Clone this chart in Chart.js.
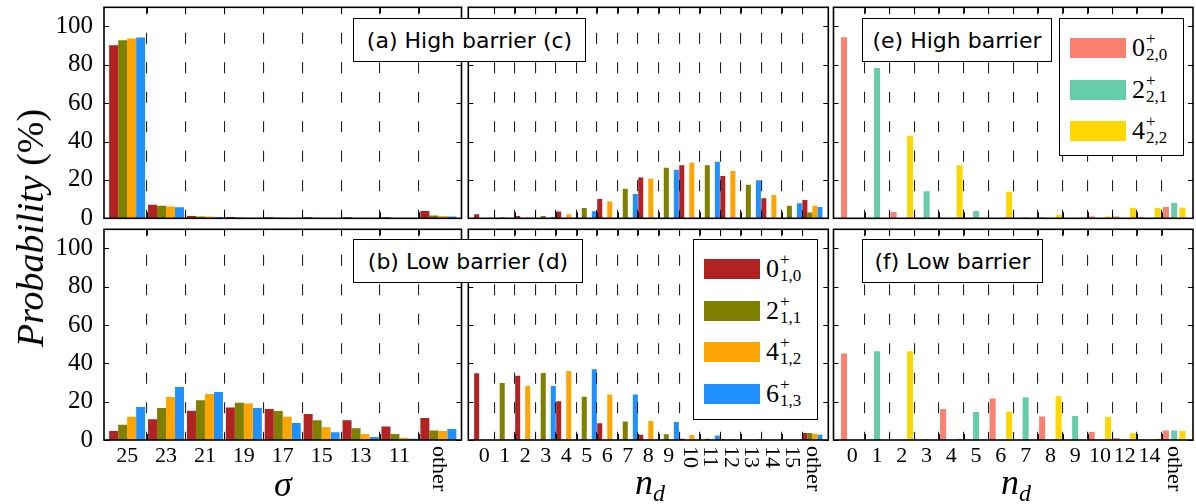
<!DOCTYPE html>
<html><head><meta charset="utf-8">
<script src="https://cdn.jsdelivr.net/npm/chart.js@4.4.1/dist/chart.umd.min.js"></script>
<style>
html,body{margin:0;padding:0;background:#fff;}
#wrap{position:relative;width:1196px;height:504px;overflow:hidden;background:#fff;}
#wrap canvas{position:absolute;left:0;top:0;}
.box{position:absolute;border:1.5px solid #000;background:#fff;font-family:"DejaVu Sans",sans-serif;font-size:22px;color:#000;box-sizing:border-box;display:flex;align-items:center;justify-content:center;white-space:nowrap;z-index:5;}
.leg{position:absolute;border:1.5px solid #000;background:#fff;box-sizing:border-box;z-index:5;}
.patch{position:absolute;width:56px;height:20px;}
.lab{position:absolute;height:40px;display:flex;align-items:center;font-family:"Liberation Serif","DejaVu Serif","Times New Roman",Tinos,serif;color:#000;white-space:nowrap;}
.lab .bs{font-size:26px;line-height:26px;}
.lab .ss{display:inline-flex;flex-direction:column;font-size:17px;line-height:16px;margin-left:1px;margin-top:-2px;}
.ttl{position:absolute;font-family:"Liberation Serif","DejaVu Serif","Times New Roman",Tinos,serif;color:#000;white-space:nowrap;transform:translate(-50%,-50%);z-index:5;}
</style>
</head><body>
<div id="wrap"></div>
<script>
// ---------- data ----------
const yTicks = [0, 20, 40, 60, 80, 100];
const sigmaCats = ['25','23','21','19','17','15','13','11','other'];
const ndCats = ['0','1','2','3','4','5','6','7','8','9','10','11','12','13','14','15','other'];
const nd2Cats = ['0','1','2','3','4','5','6','7','8','9','10','12','14','other'];

const colors1 = ['#B22222', '#808000', '#FFA500', '#1E90FF'];
const colors2 = ['#FA8072', '#66CDAA', '#FFD700'];
const stateJ1 = ['0', '2', '4', '6'];
const stateSub1 = ['1,0', '1,1', '1,2', '1,3'];
const stateJ2 = ['0', '2', '4'];
const stateSub2 = ['2,0', '2,1', '2,2'];

// (a) high barrier, sigma distribution
const highSigma0 = [90.2, 7.0, 1.2, 0.7, 0.6, 0.6, 0.5, 0.5, 3.8];
const highSigma2 = [92.8, 6.5, 1.0, 0.4, 0.3, 0.2, 0.2, 0.2, 1.4];
const highSigma4 = [93.7, 6.1, 0.9, 0.3, 0.2, 0.2, 0.2, 0.2, 1.2];
const highSigma6 = [94.2, 5.8, 0.7, 0.3, 0.2, 0.2, 0.2, 0.2, 1.0];
// (b) low barrier, sigma distribution
const lowSigma0 = [4.7, 10.8, 15.3, 17.0, 16.2, 13.6, 10.3, 7.0, 11.5];
const lowSigma2 = [8.0, 16.7, 20.7, 19.5, 15.1, 10.3, 6.1, 3.1, 4.9];
const lowSigma4 = [12.2, 22.4, 24.0, 19.0, 12.2, 6.6, 3.1, 1.2, 4.7];
const lowSigma6 = [17.2, 27.7, 25.0, 16.7, 8.9, 4.0, 1.6, 0.7, 5.7];
// (c) high barrier, n_d distribution
const highNd0 = [2.1, 0, 1.2, 0, 3.5, 0, 10.1, 0, 21.3, 0, 27.7, 0, 22.0, 0, 10.5, 0, 9.6];
const highNd2 = [0, 0.5, 0, 1.2, 0, 5.4, 0, 15.4, 0, 26.4, 0, 27.6, 0, 17.5, 0, 6.5, 3.0];
const highNd4 = [0, 0, 0.4, 0, 2.1, 0, 8.7, 0, 20.6, 0, 29.0, 0, 24.6, 0, 12.2, 0, 6.5];
const highNd6 = [0, 0, 0, 0.7, 0, 3.7, 0, 12.7, 0, 25.3, 0, 29.5, 0, 19.9, 0, 7.9, 5.9];
// (d) low barrier, n_d distribution
const lowNd0 = [34.8, 0, 33.6, 0, 20.2, 0, 8.7, 0, 2.8, 0, 0.7, 0, 0.3, 0, 0.1, 0, 3.7];
const lowNd2 = [0, 29.7, 0, 35.0, 0, 22.6, 0, 9.7, 0, 3.0, 0, 0.7, 0, 0.1, 0, 0.05, 3.7];
const lowNd4 = [0, 0, 28.2, 0, 36.0, 0, 23.7, 0, 9.9, 0, 2.6, 0, 0.5, 0, 0.1, 0, 3.3];
const lowNd6 = [0, 0, 0, 28.2, 0, 37.0, 0, 23.8, 0, 9.4, 0, 2.3, 0, 0.3, 0, 0.1, 2.8];
// (e) high barrier, second band
const highBand0 = [94.4, 0, 3.3, 0, 0.3, 0, 0.2, 0, 0.5, 0, 1.0, 1.0, 0.5, 5.9];
const highBand2 = [0, 78.4, 0, 14.1, 0, 3.8, 0, 0.5, 0, 0.1, 0, 0, 0, 8.0];
const highBand4 = [0, 0, 43.0, 0, 27.7, 0, 13.8, 0, 1.9, 0, 1.0, 5.4, 5.4, 5.5];
// (f) low barrier, second band
const lowBand0 = [45.2, 0, 0, 0, 16.2, 0, 21.7, 0, 12.3, 0, 4.2, 1.0, 0.3, 5.0];
const lowBand2 = [0, 46.3, 0, 0.5, 0, 14.6, 0, 22.3, 0, 12.5, 0, 0, 0, 5.0];
const lowBand4 = [0, 0, 46.3, 0, 0.7, 0, 14.8, 0, 22.8, 0, 12.0, 3.5, 0.7, 4.7];

const rotatedSigma = ['other'];
const rotatedNd = ['10','11','12','13','14','15','other'];
const rotatedNd2 = ['other'];

// ---------- layout ----------
const SERIF = '"Liberation Serif", "DejaVu Serif", "Times New Roman", Tinos, serif';
const W = 1196, H = 504;
const panels = [
  {cats: sigmaCats, data: [highSigma0, highSigma2, highSigma4, highSigma6], colors: colors1, xr: [-0.595, 8.595], area: {l: 104, r: 461.5, t: 7.3, b: 218.3}, showY: true, showX: false, rot: rotatedSigma, cp: 0.925, bp: 1},
  {cats: sigmaCats, data: [lowSigma0, lowSigma2, lowSigma4, lowSigma6], colors: colors1, xr: [-0.595, 8.595], area: {l: 104, r: 461.5, t: 229.3, b: 440}, showY: true, showX: true, rot: rotatedSigma, cp: 0.925, bp: 1},
  {cats: ndCats, data: [highNd0, highNd2, highNd4, highNd6], colors: colors1, xr: [-0.775, 16.775], area: {l: 468.3, r: 828.3, t: 7.3, b: 218.3}, showY: false, showX: false, rot: rotatedNd, cp: 0.98, bp: 1},
  {cats: ndCats, data: [lowNd0, lowNd2, lowNd4, lowNd6], colors: colors1, xr: [-0.775, 16.775], area: {l: 468.3, r: 828.3, t: 229.3, b: 440}, showY: false, showX: true, rot: rotatedNd, cp: 0.98, bp: 1},
  {cats: nd2Cats, data: [highBand0, highBand2, highBand4], colors: colors2, xr: [-0.76, 13.76], area: {l: 833.5, r: 1193, t: 7.3, b: 218.3}, showY: false, showX: false, rot: rotatedNd2, cp: 1, bp: 0.73},
  {cats: nd2Cats, data: [lowBand0, lowBand2, lowBand4], colors: colors2, xr: [-0.76, 13.76], area: {l: 833.5, r: 1193, t: 229.3, b: 440}, showY: false, showX: true, rot: rotatedNd2, cp: 1, bp: 0.73}
];

const wrap = document.getElementById('wrap');

function framePlugin(p) {
  return {
    id: 'frame',
    afterDraw(chart) {
      const {ctx, chartArea: a, scales} = chart;
      ctx.save();
      ctx.strokeStyle = '#000';
      ctx.lineWidth = 1;
      const line = (x1, y1, x2, y2) => { ctx.beginPath(); ctx.moveTo(x1, y1); ctx.lineTo(x2, y2); ctx.stroke(); };
      yTicks.forEach(v => {
        const y = Math.round(scales.y.getPixelForValue(v)) + 0.5;
        line(a.left, y, a.left + 5, y);
        line(a.right, y, a.right - 5, y);
      });
      for (let i = 0; i < p.cats.length - 1; i++) {
        const x = Math.round(scales.x.getPixelForValue(i + 0.5)) + 0.5;
        line(x, a.top, x, a.top + 6);
        line(x, a.bottom, x, a.bottom - 6);
      }
      ctx.lineWidth = 1.6;
      ctx.strokeRect(a.left, a.top, a.right - a.left, a.bottom - a.top);
      if (p.showX) {
        ctx.font = '22px ' + SERIF;
        ctx.fillStyle = '#000';
        ctx.textAlign = 'left';
        ctx.textBaseline = 'middle';
        p.cats.forEach((c, i) => {
          if (!p.rot.includes(c)) return;
          const x = scales.x.getPixelForValue(i);
          ctx.save();
          ctx.translate(x, a.bottom + 6);
          ctx.rotate(Math.PI / 2);
          ctx.fillText(c, 0, 0);
          ctx.restore();
        });
      }
      ctx.restore();
    }
  };
}

const zeroPad = s => { s.paddingLeft = 0; s.paddingRight = 0; s.paddingTop = 0; s.paddingBottom = 0; };

panels.forEach(p => {
  const cv = document.createElement('canvas');
  cv.width = W; cv.height = H;
  wrap.appendChild(cv);
  const ar = p.area;
  new Chart(cv, {
    type: 'bar',
    data: {
      datasets: p.data.map((d, k) => ({
        label: stateJ1[k],
        data: d.map((v, i) => ({x: i, y: v})),
        backgroundColor: p.colors[k],
        borderWidth: 0,
        categoryPercentage: p.cp,
        barPercentage: p.bp
      }))
    },
    options: {
      responsive: false,
      animation: false,
      devicePixelRatio: 1,
      layout: {padding: {left: p.showY ? 0 : ar.l, right: W - ar.r, top: ar.t, bottom: p.showX ? 0 : H - ar.b}},
      plugins: {legend: {display: false}, tooltip: {enabled: false}},
      scales: {
        x: {
          type: 'linear', position: 'bottom', min: p.xr[0], max: p.xr[1], offset: false,
          afterBuildTicks: s => { s.ticks = p.cats.map((c, i) => ({value: i})); },
          afterFit: s => { s.height = p.showX ? H - ar.b : 0; zeroPad(s); },
          grid: {display: false, drawTicks: false, offset: false},
          border: {display: false},
          ticks: {
            display: p.showX, autoSkip: false, maxRotation: 0, minRotation: 0, padding: 3,
            font: {family: SERIF, size: 22}, color: '#000',
            callback: (v) => { const c = p.cats[Math.round(v)]; return p.rot.includes(c) ? '' : c; }
          }
        },
        xg: {
          type: 'linear', position: 'bottom', min: p.xr[0], max: p.xr[1], offset: false,
          afterBuildTicks: s => { s.ticks = p.cats.slice(1).map((c, i) => ({value: i + 0.5})); },
          afterFit: s => { s.height = 0; zeroPad(s); },
          grid: {display: true, drawTicks: false, offset: false, color: '#222', lineWidth: 1.1, z: 1, borderDash: [11, 18.5], borderDashOffset: 4},
          border: {display: false, dash: [11, 18.5], dashOffset: 4},
          ticks: {display: false}
        },
        y: {
          min: 0, max: 110,
          afterBuildTicks: s => { s.ticks = yTicks.map(v => ({value: v})); },
          afterFit: s => { s.width = p.showY ? ar.l : 0; zeroPad(s); },
          grid: {display: false, drawTicks: false},
          border: {display: false},
          ticks: {display: p.showY, padding: 11, font: {family: SERIF, size: 25}, color: '#000'}
        }
      }
    },
    plugins: [framePlugin(p)]
  });
});

// ---------- annotation boxes ----------
function addBox(text, l, t, w, h) {
  const d = document.createElement('div');
  d.className = 'box';
  d.style.left = l + 'px'; d.style.top = t + 'px'; d.style.width = w + 'px'; d.style.height = h + 'px';
  d.textContent = text;
  wrap.appendChild(d);
}
addBox('(a) High barrier (c)', 353, 18, 233, 44);
addBox('(b) Low barrier (d)', 353, 239, 230, 44);
addBox('(e) High barrier', 862, 18, 190, 44);
addBox('(f) Low barrier', 862, 239, 181, 44);

// ---------- legends ----------
function addLegend(l, t, h, colors, js, subs) {
  const d = document.createElement('div');
  d.className = 'leg';
  d.style.left = l + 'px'; d.style.top = t + 'px'; d.style.width = '125px'; d.style.height = h + 'px';
  colors.forEach((c, i) => {
    const top = 19 + i * 41.7;
    const pa = document.createElement('div');
    pa.className = 'patch';
    pa.style.left = '10px'; pa.style.top = top + 'px'; pa.style.background = c;
    d.appendChild(pa);
    const lb = document.createElement('div');
    lb.className = 'lab';
    lb.style.left = '72px'; lb.style.top = (top - 10) + 'px';
    lb.innerHTML = '<span class="bs">' + js[i] + '</span><span class="ss"><span>+</span><span>' + subs[i] + '</span></span>';
    d.appendChild(lb);
  });
  wrap.appendChild(d);
}
addLegend(693, 239, 181, colors1, stateJ1, stateSub1);
addLegend(1059, 18, 138, colors2, stateJ2, stateSub2);

// ---------- axis titles ----------
function addTitle(html, x, y, extra) {
  const d = document.createElement('div');
  d.className = 'ttl';
  d.style.left = x + 'px'; d.style.top = y + 'px';
  if (extra) d.style.transform = extra;
  d.innerHTML = html;
  wrap.appendChild(d);
}
addTitle('<span style="font-size:38px"><i>Probability</i> (%)</span>', 30, 228, 'translate(-50%,-50%) rotate(-90deg)');
addTitle('<i style="font-size:36px">σ</i>', 283, 484);
addTitle('<i style="font-size:36px">n</i><i style="font-size:24px;position:relative;top:7px">d</i>', 650, 482);
addTitle('<i style="font-size:36px">n</i><i style="font-size:24px;position:relative;top:7px">d</i>', 1016, 482);
</script>
</body></html>
